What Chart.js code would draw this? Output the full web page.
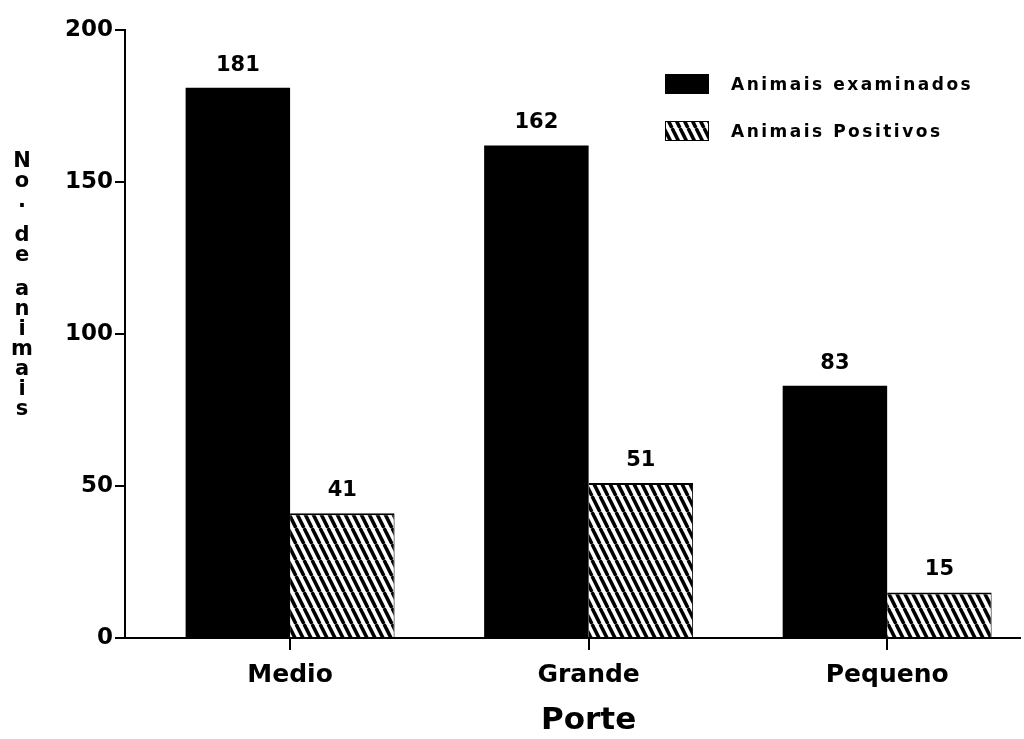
<!DOCTYPE html>
<html><head><meta charset="utf-8">
<script src="https://cdn.jsdelivr.net/npm/chart.js@4/dist/chart.umd.min.js"></script>
<style>html,body{margin:0;padding:0;background:#fff}#wrap{width:1024px;height:739px}</style>
</head><body><div id="wrap"><canvas id="c" width="1024" height="739"></canvas></div>
<script>
const categories = ['Medio', 'Grande', 'Pequeno'];
const examinados = [181, 162, 83];
const positivos = [41, 51, 15];
const yTicks = [0, 50, 100, 150, 200];
const seriesNames = ['Animais examinados', 'Animais Positivos'];
const yTitle = 'No. de animais';
const xTitle = 'Porte';

const FONT = 'DejaVu Sans';
const canvas = document.getElementById('c');
const ctx = canvas.getContext('2d');

function makeHatch() {
  const c = document.createElement('canvas');
  c.width = 8; c.height = 16;
  const g = c.getContext('2d');
  g.fillStyle = '#fff'; g.fillRect(0, 0, 8, 16);
  g.strokeStyle = '#000'; g.lineWidth = 3.5;
  for (let k = -1; k <= 1; k++) {
    g.beginPath(); g.moveTo(k * 8, 0); g.lineTo(k * 8 + 8, 16); g.stroke();
  }
  return ctx.createPattern(c, 'repeat');
}
const hatch = makeHatch();

const valueLabels = {
  id: 'valueLabels',
  afterDatasetsDraw(chart) {
    const c = chart.ctx;
    c.save();
    c.fillStyle = '#000';
    c.font = 'bold 21px "' + FONT + '"';
    c.textAlign = 'center';
    c.textBaseline = 'bottom';
    chart.data.datasets.forEach((ds, di) => {
      const meta = chart.getDatasetMeta(di);
      meta.data.forEach((el, i) => {
        c.fillText(String(ds.data[i].y), el.x, el.y - 12);
      });
    });
    c.restore();
  }
};

const titles = {
  id: 'titles',
  afterDraw(chart) {
    const c = chart.ctx;
    c.save();
    c.fillStyle = '#000';
    c.font = 'bold 21px "' + FONT + '"';
    c.textAlign = 'center';
    c.textBaseline = 'middle';
    let y = 162;
    for (const ch of yTitle) {
      if (ch === ' ') { y += 14; continue; }
      c.fillText(ch, 22, y);
      y += 20;
    }
    const xs = chart.scales.x;
    c.font = 'bold 31px "' + FONT + '"';
    c.fillText(xTitle, xs.getPixelForValue(1), 721);
    c.restore();
  }
};

const customLegend = {
  id: 'customLegend',
  afterDraw(chart) {
    const c = chart.ctx;
    c.save();
    c.font = 'bold 17px "' + FONT + '"';
    c.textBaseline = 'middle';
    c.textAlign = 'left';
    if ('letterSpacing' in c) c.letterSpacing = '2.5px';
    const rows = [74, 121];
    chart.data.datasets.forEach((ds, i) => {
      const y = rows[i];
      c.fillStyle = ds.backgroundColor;
      c.fillRect(665, y, 44, 20);
      c.strokeStyle = '#000'; c.lineWidth = 1;
      c.strokeRect(665.5, y + 0.5, 43, 19);
      c.fillStyle = '#000';
      c.fillText(ds.label, 731, y + 12);
    });
    c.restore();
  }
};

new Chart(ctx, {
  type: 'bar',
  data: {
    datasets: [
      {
        label: seriesNames[0],
        data: examinados.map((v, i) => ({ x: i, y: v })),
        backgroundColor: '#000',
        borderColor: '#000',
        borderWidth: 0,
        barPercentage: 1,
        categoryPercentage: 0.7
      },
      {
        label: seriesNames[1],
        data: positivos.map((v, i) => ({ x: i, y: v })),
        backgroundColor: hatch,
        borderColor: '#000',
        borderWidth: { top: 2, right: 1, left: 0, bottom: 0 },
        barPercentage: 1,
        categoryPercentage: 0.7
      }
    ]
  },
  options: {
    responsive: false,
    animation: false,
    devicePixelRatio: 1,
    layout: { padding: { left: 0, right: 4, top: 30, bottom: 0 } },
    plugins: { legend: { display: false }, tooltip: { enabled: false } },
    scales: {
      x: {
        type: 'linear',
        min: -0.553,
        max: 2.445,
        offset: false,
        afterBuildTicks: s => { s.ticks = categories.map((c, i) => ({ value: i })); },
        afterFit: s => { s.height = 101; },
        ticks: {
          callback: v => categories[v] !== undefined ? categories[v] : '',
          color: '#000',
          font: { family: FONT, weight: 'bold', size: 25 },
          padding: 10,
          autoSkip: false,
          maxRotation: 0
        },
        grid: { display: true, offset: false, drawOnChartArea: false, drawTicks: true, tickLength: 12, color: '#000', lineWidth: 2 },
        border: { display: true, color: '#000', width: 2 },
        title: { display: false }
      },
      y: {
        min: 0,
        max: 200,
        afterBuildTicks: s => { s.ticks = yTicks.map(v => ({ value: v })); },
        afterFit: s => { s.width = 125; },
        ticks: {
          color: '#000',
          font: { family: FONT, weight: 'bold', size: 23 },
          padding: 2
        },
        grid: { display: true, drawOnChartArea: false, drawTicks: true, tickLength: 10, color: '#000', lineWidth: 2 },
        border: { display: true, color: '#000', width: 2 }
      }
    }
  },
  plugins: [valueLabels, titles, customLegend]
});
</script>
</body></html>
